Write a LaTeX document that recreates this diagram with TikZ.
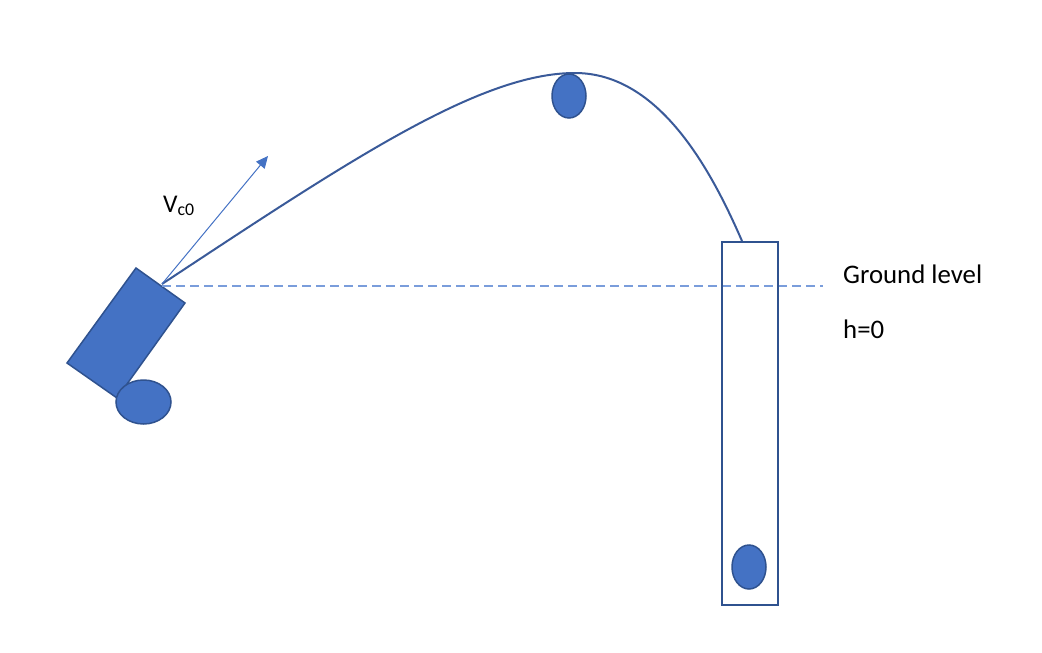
\documentclass[tikz,border=0pt]{standalone}
\usepackage{fontspec}
\setmainfont{Carlito}
\usetikzlibrary{arrows.meta,shapes.geometric}
\definecolor{fillblue}{HTML}{4472C4}
\definecolor{darkblue}{HTML}{2F528F}
\definecolor{curveblue}{HTML}{3A5A99}
\definecolor{dashblue}{HTML}{7A9DDB}
\tikzset{
  ballshape/.style={ellipse, draw=darkblue, fill=fillblue, line width=1.5pt, inner sep=0pt},
  lbl/.style={font=\fontsize{26.8}{31}\selectfont, inner sep=0pt, anchor=base west},
  traj/.style={draw=curveblue, line width=2pt},
  groundline/.style={draw=dashblue, line width=1.3pt, dash pattern=on 9pt off 5pt},
  velarrow/.style={draw=fillblue, line width=1pt, -{Triangle[length=12pt,width=11pt]}},
}
\begin{document}
\begin{tikzpicture}[x=1pt,y=-1pt]
\useasboundingbox (0,0) rectangle (1042,653);
% cannon body
\coordinate (c1) at (136,268);
\coordinate (c2) at (185,303);
\coordinate (c3) at (117,398);
\coordinate (c4) at (67,363);
\filldraw[fill=fillblue, draw=darkblue, line width=1.5pt, line join=miter] (c1) -- (c2) -- (c3) -- (c4) -- cycle;
% cannon ball
\node[ballshape, minimum width=55pt, minimum height=44pt] (wheel) at (143.5,402) {};
% launch point
\coordinate (launch) at (162,284);
\coordinate (vtip) at (268,156);
\coordinate (apex) at (575,73);
% ground line
\coordinate (gstart) at (162,286);
\coordinate (gend) at (823,286);
\draw[groundline] (gstart) -- (gend);
% box
\node[draw=darkblue, line width=2pt, minimum width=56pt, minimum height=363pt, inner sep=0pt] (box) at (750,423.5) {};
\coordinate (land) at ([xshift=21pt]box.north west);
% trajectory
\draw[traj] (launch) .. controls (350,160) and (480,73) .. (apex) .. controls (660,73) and (712,172) .. (land);
% velocity arrow
\draw[velarrow] (launch) -- (vtip);
% balls
\node[ballshape, minimum width=34pt, minimum height=44pt] (topball) at (569,96) {};
\node[ballshape, minimum width=34pt, minimum height=44pt] (boxball) at (749,567) {};
% labels
\node[lbl, font=\fontsize{25.5}{30}\selectfont] (vlabel) at (163,212) {V\textsubscript{c0}};
\node[lbl] (ground) at (843,283) {Ground level};
\node[lbl] (hzero) at (843,338) {h=0};
\end{tikzpicture}
\end{document}
